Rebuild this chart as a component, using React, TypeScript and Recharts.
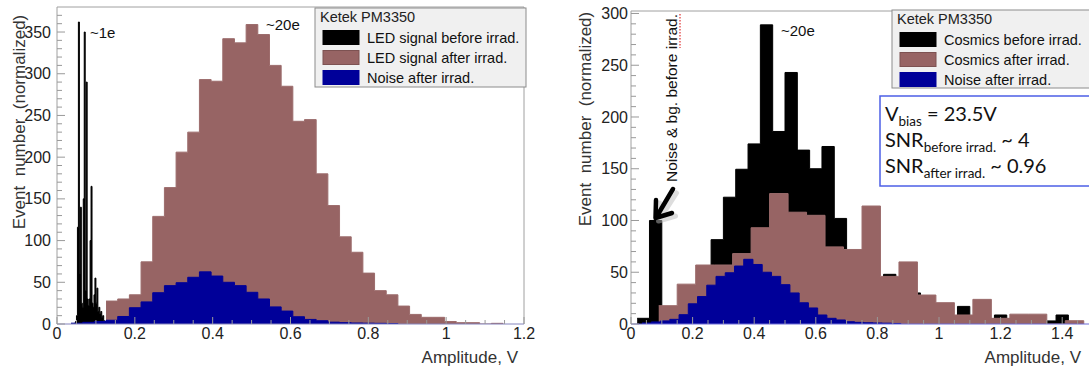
import React from "react";
import { ComposedChart, Area, XAxis, YAxis, ReferenceLine } from "recharts";

const FONT = "'Liberation Sans', Arial, sans-serif";

// histogram contents: first bin edge, bin width, bin heights
const ledBeforeStart = 0.045;
const ledBeforeWidth = 0.0025;
const ledBefore = [1, 3, 10, 116, 362, 60, 140, 25, 20, 150, 350, 40, 290, 30, 22, 30, 100, 165, 25, 20, 35, 55, 25, 43, 15, 20, 12, 15, 8, 10, 4, 2];

const ledAfterStart = 0.126;
const ledAfterWidth = 0.03;
const ledAfter = [27.5, 30, 35, 74.5, 129, 163.5, 206, 230, 293, 291, 342, 337, 359, 347, 310, 285, 243, 245, 180, 142, 104.5, 86, 61, 40, 35, 21.5, 11.5, 8, 8, 3, 1.6, 1.6, 0, 0.8];

const noiseStart = 0.036;
const noiseWidth = 0.03;
const noiseAfter = [1, 2, 3, 4.5, 9, 19.5, 26.5, 37.5, 46, 49.5, 56, 62.5, 57.5, 50, 46, 38, 30, 20.5, 15.5, 8.7, 5.5, 3.9, 2.2, 1.6, 1.2, 1, 0.8, 0.5];

const cosmicsBeforeStart = 0.02;
const cosmicsBeforeWidth = 0.04;
const cosmicsBefore = [5.5, 100, 2, 8, 20, 40, 81.5, 122.5, 149.5, 174, 289, 186, 243, 168, 150, 171.5, 102, 65, 40, 30, 48, 30, 30, 20, 15, 8, 17, 8, 5, 8.7, 5, 3, 3, 3, 8.7, 2];

const cosmicsAfterStart = 0.09;
const cosmicsAfterWidth = 0.06;
const cosmicsAfter = [17.7, 38.5, 57, 57, 68, 93, 126, 108, 105, 74.5, 72, 114, 46, 60, 28, 20.6, 8.7, 23.8, 5.5, 9.5, 9.5, 0, 3.2];

const leftXTicks = [0, 0.2, 0.4, 0.6, 0.8, 1, 1.2];
const rightXTicks = [0, 0.2, 0.4, 0.6, 0.8, 1, 1.2, 1.4];
const leftYTicks = [0, 50, 100, 150, 200, 250, 300, 350];
const rightYTicks = [0, 50, 100, 150, 200, 250, 300];

const legendTitle = "Ketek PM3350";
const leftLegend = ["LED signal before irrad.", "LED signal after irrad.", "Noise after irrad."];
const rightLegend = ["Cosmics before irrad.", "Cosmics after irrad.", "Noise after irrad."];
const yTitle = "Event  number  (normalized)";
const xTitle = "Amplitude, V";

const BLACK = "#000000";
const BROWN = "#976464";
const BLUE = "#000099";
const swatchColors = [BLACK, BROWN, BLUE];

// bin contents -> points for a stepAfter area
const steps = (start: number, width: number, values: number[]) => {
  const pts = values.map((v, i) => ({ x: +(start + i * width).toFixed(4), y: v }));
  pts.push({ x: +(start + values.length * width).toFixed(4), y: 0 });
  return pts;
};

const subTicks = (max: number, step: number) => {
  const out: number[] = [];
  for (let i = 0; i * step <= max + 1e-9; i++) out.push(+(i * step).toFixed(4));
  return out;
};

const isMajor = (v: number, majors: number[]) => majors.some((m) => Math.abs(m - v) < 1e-6);

const XTick = (props: any) => {
  const { x, y, payload, majors } = props;
  const major = isMajor(payload.value, majors);
  return (
    <g>
      <line x1={x} x2={x} y1={y} y2={y - (major ? 7 : 4)} stroke="#999" />
      {major && (
        <text x={x} y={y + 15} textAnchor="middle" fontFamily={FONT} fontSize={16} fill="#222">
          {payload.value}
        </text>
      )}
    </g>
  );
};

const YTick = (props: any) => {
  const { x, y, payload, majors, gap } = props;
  const major = isMajor(payload.value, majors);
  return (
    <g>
      <line x1={x} x2={x + (major ? 8 : 5)} y1={y} y2={y} stroke="#999" />
      {major && (
        <text x={x - gap} y={y} dy="0.35em" textAnchor="end" fontFamily={FONT} fontSize={16} fill="#222">
          {payload.value}
        </text>
      )}
    </g>
  );
};

const hist = (key: string, data: { x: number; y: number }[], color: string, stroke: string) => (
  <Area
    key={key}
    type="stepAfter"
    data={data}
    dataKey="y"
    fill={color}
    fillOpacity={1}
    stroke={stroke}
    strokeWidth={1}
    dot={false}
    activeDot={false}
    isAnimationActive={false}
  />
);

const Legend = ({ x, y, w, h, labels }: { x: number; y: number; w: number; h: number; labels: string[] }) => (
  <g>
    <rect x={x} y={y} width={w} height={h} fill="#f0f0f0" stroke="#8c8c8c" />
    <text x={x + 5} y={y + 13.5} fontFamily={FONT} fontSize={14.5} fill="#222">
      {legendTitle}
    </text>
    {labels.map((lab, i) => (
      <g key={lab}>
        <rect x={x + 8} y={y + 22.5 + i * 20} width={36} height={14} fill={swatchColors[i]} stroke={i === 1 ? "#7d5252" : swatchColors[i]} />
        <text x={x + 52} y={y + 34.5 + i * 20} fontFamily={FONT} fontSize={14.5} fill="#111">
          {lab}
        </text>
      </g>
    ))}
  </g>
);

export default function App() {
  const ledBeforePts = steps(ledBeforeStart, ledBeforeWidth, ledBefore);
  const ledAfterPts = steps(ledAfterStart, ledAfterWidth, ledAfter);
  const noisePts = steps(noiseStart, noiseWidth, noiseAfter);
  const cosBeforePts = steps(cosmicsBeforeStart, cosmicsBeforeWidth, cosmicsBefore);
  const cosAfterPts = steps(cosmicsAfterStart, cosmicsAfterWidth, cosmicsAfter);

  return (
    <div style={{ position: "absolute", left: 0, top: 0, width: 1089, height: 367, overflow: "hidden", background: "#fff" }}>
      <div style={{ position: "absolute", left: 0, top: 0 }}>
        <ComposedChart width={545} height={367} margin={{ top: 7, right: 21, bottom: 0, left: 0 }}>
          <XAxis
            type="number"
            dataKey="x"
            domain={[0, 1.2]}
            ticks={subTicks(1.2, 0.05)}
            interval={0}
            tickSize={0}
            tickMargin={0}
            tickLine={false}
            height={43}
            allowDataOverflow
            axisLine={{ stroke: "#8484bc" }}
            tick={(p: any) => <XTick {...p} majors={leftXTicks} />}
          />
          <YAxis
            type="number"
            dataKey="y"
            domain={[0, 380]}
            ticks={subTicks(370, 10)}
            interval={0}
            tickSize={0}
            tickMargin={0}
            tickLine={false}
            width={57}
            allowDataOverflow
            axisLine={{ stroke: "#a0a0a0" }}
            tick={(p: any) => <YTick {...p} majors={leftYTicks} gap={6} />}
          />
          {hist("ledBefore", ledBeforePts, BLACK, BLACK)}
          {hist("ledAfter", ledAfterPts, BROWN, "#9c6c6c")}
          {hist("noise", noisePts, BLUE, BLUE)}
          <ReferenceLine y={380} stroke="#a0a0a0" />
          <ReferenceLine x={1.2} stroke="#a0a0a0" />
        </ComposedChart>
      </div>

      <div style={{ position: "absolute", left: 545, top: 0 }}>
        <ComposedChart width={548} height={367} margin={{ top: 11, right: 0, bottom: 0, left: 0 }}>
          <XAxis
            type="number"
            dataKey="x"
            domain={[0, 1.5]}
            ticks={subTicks(1.5, 0.05)}
            interval={0}
            tickSize={0}
            tickMargin={0}
            tickLine={false}
            height={43}
            allowDataOverflow
            axisLine={{ stroke: "#6a6ad6" }}
            tick={(p: any) => <XTick {...p} majors={rightXTicks} />}
          />
          <YAxis
            type="number"
            dataKey="y"
            domain={[0, 302.4]}
            ticks={subTicks(300, 10)}
            interval={0}
            tickSize={0}
            tickMargin={0}
            tickLine={false}
            width={86}
            allowDataOverflow
            axisLine={{ stroke: "#a0a0a0" }}
            tick={(p: any) => <YTick {...p} majors={rightYTicks} gap={3} />}
          />
          {hist("cosBefore", cosBeforePts, BLACK, BLACK)}
          {hist("cosAfter", cosAfterPts, BROWN, "#9c6c6c")}
          {hist("noise", noisePts, BLUE, BLUE)}
          <ReferenceLine y={302.4} stroke="#a0a0a0" />
        </ComposedChart>
      </div>

      <svg width={1089} height={367} style={{ position: "absolute", left: 0, top: 0, pointerEvents: "none" }}>
        {/* axis titles */}
        <text x={25} y={122} transform="rotate(-90 25 122)" textAnchor="middle" fontFamily={FONT} fontSize={17} fill="#333" style={{ whiteSpace: "pre" }}>
          {yTitle}
        </text>
        <text x={591} y={119} transform="rotate(-90 591 119)" textAnchor="middle" fontFamily={FONT} fontSize={17} fill="#333" style={{ whiteSpace: "pre" }}>
          {yTitle}
        </text>
        <text x={518} y={363} textAnchor="end" fontFamily={FONT} fontSize={17} fill="#333">
          {xTitle}
        </text>
        <text x={1081} y={363} textAnchor="end" fontFamily={FONT} fontSize={17} fill="#333">
          {xTitle}
        </text>

        {/* legends */}
        <Legend x={315} y={8} w={211} h={79} labels={leftLegend} />
        <Legend x={892} y={10} w={220} h={78} labels={rightLegend} />

        {/* peak annotations */}
        <text x={90} y={38} fontFamily={FONT} fontSize={15} fill="#111">~1e</text>
        <text x={266} y={30} fontFamily={FONT} fontSize={15} fill="#111">~20e</text>
        <text x={781} y={36} fontFamily={FONT} fontSize={15} fill="#111">~20e</text>

        {/* noise peak note and arrow */}
        <text x={677} y={182} transform="rotate(-90 677 182)" fontFamily={FONT} fontSize={15.5} fill="#111">
          Noise &amp; bg. before irrad.
        </text>
        <line x1={680} y1={14} x2={680} y2={48} stroke="#e03030" strokeWidth={1.2} strokeDasharray="1.5 1.5" />
        <path d="M675 191 L659 216 M658 201 L657 219 L674 214" fill="none" stroke="#bbb" strokeOpacity={0.5} strokeWidth={5} strokeLinecap="round" strokeLinejoin="round" transform="translate(1.5 2)" />
        <path d="M673 189 L657 216 M656 200 L655.5 218 L672 213" fill="none" stroke="#000" strokeWidth={4.5} strokeLinecap="round" strokeLinejoin="round" />

        {/* bias / SNR box */}
        <rect x={880} y={96} width={230} height={90} fill="#fff" stroke="#4c5fe6" strokeWidth={1.5} />
        <g fontFamily="Lato, 'Open Sans', sans-serif" fill="#111">
          <text x={885} y={121} fontSize={20}>
            V<tspan fontSize={13.5} dy={5}>bias</tspan>
            <tspan fontSize={20} dy={-5}> = 23.5V</tspan>
          </text>
          <text x={885} y={147} fontSize={20}>
            SNR<tspan fontSize={13.5} dy={5}>before irrad.</tspan>
            <tspan fontSize={20} dy={-5}> ~ 4</tspan>
          </text>
          <text x={885} y={173} fontSize={20}>
            SNR<tspan fontSize={13.5} dy={5}>after irrad.</tspan>
            <tspan fontSize={20} dy={-5}> ~ 0.96</tspan>
          </text>
        </g>
      </svg>
    </div>
  );
}
